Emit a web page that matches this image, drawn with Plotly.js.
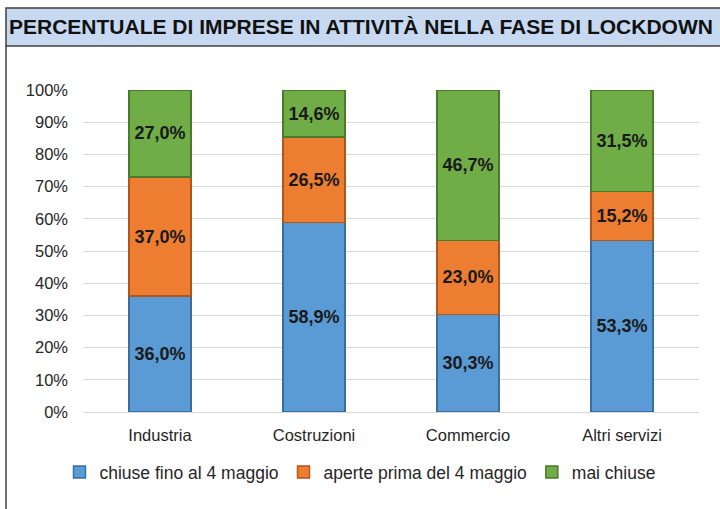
<!DOCTYPE html>
<html><head><meta charset="utf-8">
<script src="https://cdn.plot.ly/plotly-3.0.1.min.js"></script>
<style>html,body{margin:0;padding:0;background:#fff;}#chart{width:720px;height:509px;}</style>
</head><body><div id="chart"></div>
<script>
const categories = ["Industria", "Costruzioni", "Commercio", "Altri servizi"];
const seriesNames = ["chiuse fino al 4 maggio", "aperte prima del 4 maggio", "mai chiuse"];
const chiuse = [36.0, 58.9, 30.3, 53.3];
const aperte = [37.0, 26.5, 23.0, 15.2];
const maiChiuse = [27.0, 14.6, 46.7, 31.5];
const yTickVals = [0,10,20,30,40,50,60,70,80,90,100];
const yTickText = ["0%","10%","20%","30%","40%","50%","60%","70%","80%","90%","100%"];
const titleText = "PERCENTUALE DI IMPRESE IN ATTIVITÀ NELLA FASE DI LOCKDOWN";

const fills = ["#5B9BD5", "#ED7D31", "#70AD47"];
const edges = ["#3A6E9F", "#B0561A", "#4A7A2C"];
const values = [chiuse, aperte, maiChiuse];

const traces = values.map((v, i) => ({
  type: "bar",
  name: seriesNames[i],
  x: categories,
  y: v,
  marker: {color: fills[i], line: {color: edges[i], width: 1.5}},
  texttemplate: "%{y:.1f}%",
  textposition: "inside",
  insidetextanchor: "middle",
  textangle: 0,
  constraintext: "none",
  textfont: {family: "Liberation Sans, Arial, sans-serif", size: 18, color: "#1a1a1a", weight: "bold"},
  hoverinfo: "skip"
}));

const L = 83, R = 699, T = 90, B = 412;
const px = x => (x - L) / (R - L);
const py = y => (B - y) / (B - T);

const layout = {
  width: 720, height: 509,
  margin: {l: L, r: 720 - R, t: T, b: 509 - B},
  paper_bgcolor: "#ffffff", plot_bgcolor: "#ffffff",
  separators: ",.",
  barmode: "stack",
  bargap: 0.6,
  font: {family: "Liberation Sans, Arial, sans-serif", color: "#262626"},
  title: {
    text: "<b>" + titleText + "</b>",
    font: {family: "Liberation Sans, Arial, sans-serif", size: 21, color: "#111"},
    xref: "container", yref: "container",
    x: 9/720, xanchor: "left",
    y: 1 - 27/509, yanchor: "middle"
  },
  xaxis: {
    type: "category",
    tickfont: {size: 16.5, color: "#262626"},
    showline: true, linecolor: "#d9d9d9", linewidth: 1,
    ticks: "", ticklabelstandoff: 8,
    fixedrange: true
  },
  yaxis: {
    range: [0, 100],
    tickvals: yTickVals, ticktext: yTickText,
    tickfont: {size: 16.5, color: "#262626"},
    showgrid: true, gridcolor: "#d9d9d9", gridwidth: 1,
    zeroline: false, ticks: "", ticklabelstandoff: 14,
    fixedrange: true
  },
  legend: {
    orientation: "h",
    xref: "container", yref: "container",
    x: 0.5, xanchor: "center",
    y: 1 - 472/509, yanchor: "middle",
    font: {size: 17.5, color: "#262626"},
    itemwidth: 30,
    traceorder: "normal"
  },
  shapes: [
    {type: "rect", xref: "paper", yref: "paper", x0: px(6), x1: px(730), y0: py(46), y1: py(8),
     fillcolor: "#C6D9F1", line: {color: "#404040", width: 1.5}, layer: "below"},
    {type: "line", xref: "paper", yref: "paper", x0: px(6), x1: px(6), y0: py(46), y1: py(515),
     line: {color: "#404040", width: 1.5}}
  ],
  showlegend: true
};

Plotly.newPlot("chart", traces, layout, {displayModeBar: false, staticPlot: true});
</script></body></html>
